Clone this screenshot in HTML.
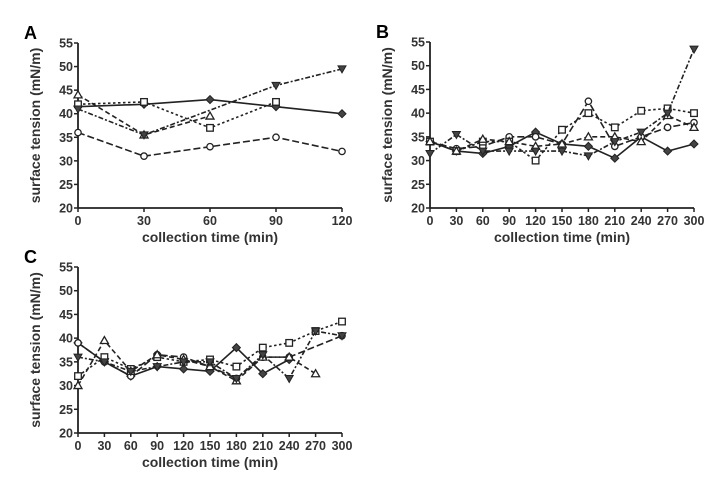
<!DOCTYPE html>
<html><head><meta charset="utf-8"><style>
body{margin:0;background:#fff;width:723px;height:475px;overflow:hidden}
svg{font-family:"Liberation Sans",Arial,sans-serif;font-weight:bold}
</style></head><body>
<svg id="s" width="723" height="475" viewBox="0 0 723 475" xmlns="http://www.w3.org/2000/svg"></svg>
<script>
const S=document.getElementById('s');let h='';
const dash={sol:'',dsh:'7,3',dot:'2.5,2.5',dd:'5,2,2,2',dt:'5,3'};
function panel(o){
 const {L,T,B,R,xmax,step,letter,series}=o;
 const X=v=>L+(R-L)*v/xmax, Y=v=>B-(B-T)*(v-20)/35;
 h+=`<text x="${L-54}" y="${T-4}" font-size="18">${letter}</text>`;
 h+=`<line x1="${L}" y1="${T}" x2="${L}" y2="${B}" stroke="#222" stroke-width="1.8"/><line x1="${L}" y1="${B}" x2="${R}" y2="${B}" stroke="#222" stroke-width="1.8"/>`;
 for(let v=20;v<=55;v+=5){h+=`<line x1="${L-4}" y1="${Y(v)}" x2="${L}" y2="${Y(v)}" stroke="#222" stroke-width="1.5"/><text x="${L-5}" y="${Y(v)+4.5}" font-size="12.5" text-anchor="end" fill="#333">${v}</text>`;}
 for(let v=0;v<=xmax;v+=step){h+=`<line x1="${X(v)}" y1="${B}" x2="${X(v)}" y2="${B+4}" stroke="#222" stroke-width="1.5"/><text x="${X(v)}" y="${B+17}" font-size="12.5" text-anchor="middle" fill="#333">${v}</text>`;}
 h+=`<text x="${(L+R)/2}" y="${B+34}" font-size="14" text-anchor="middle" fill="#333">collection time (min)</text>`;
 h+=`<text transform="translate(${L-38},${(T+B)/2}) rotate(-90)" font-size="14" text-anchor="middle" fill="#333">surface tension (mN/m)</text>`;
 for(const s of series){
  const pts=[];s.d.forEach((v,i)=>{if(v!=null)pts.push([X(i*step),Y(v)])});
  h+=`<polyline points="${pts.map(p=>p.join(',')).join(' ')}" fill="none" stroke="#222" stroke-width="1.6" stroke-dasharray="${dash[s.l]}"/>`;
  for(const [x,y] of pts){
   if(s.m=='D')h+=`<polygon points="${x},${y-4} ${x+4},${y} ${x},${y+4} ${x-4},${y}" fill="#444" stroke="#222"/>`;
   if(s.m=='O')h+=`<circle cx="${x}" cy="${y}" r="3.2" fill="#fff" stroke="#222" stroke-width="1.3"/>`;
   if(s.m=='S')h+=`<rect x="${x-3.3}" y="${y-3.3}" width="6.6" height="6.6" fill="#fff" stroke="#222" stroke-width="1.3"/>`;
   if(s.m=='T')h+=`<polygon points="${x},${y-4} ${x+4},${y+3} ${x-4},${y+3}" fill="#fff" stroke="#222" stroke-width="1.3"/>`;
   if(s.m=='V')h+=`<polygon points="${x},${y+4} ${x+4},${y-3} ${x-4},${y-3}" fill="#444" stroke="#222" stroke-width="1"/>`;
  }
 }
}
panel({L:78,T:43,B:208,R:342,xmax:120,step:30,letter:'A',series:[
 {m:'D',l:'sol',f:1,d:[41.5,42,43,41.5,40]},
 {m:'O',l:'dsh',d:[36,31,33,35,32]},
 {m:'T',l:'dt',d:[44,35.5,39.5]},
 {m:'S',l:'dot',d:[42,42.5,37,42.5]},
 {m:'V',l:'dd',d:[41,35.5,null,46,49.5]}]});
panel({L:430,T:42,B:208,R:694,xmax:300,step:30,letter:'B',series:[
 {m:'D',l:'sol',f:1,d:[34,32,31.5,33,36,33.5,33,30.5,35,32,33.5]},
 {m:'O',l:'dsh',d:[34,32.5,33,35,35,33.5,42.5,33,35,37,38]},
 {m:'S',l:'dot',d:[34,32,34,34,30,36.5,40,37,40.5,41,40]},
 {m:'T',l:'dt',d:[34,32,34.5,34,33,33.5,35,35,34,39.5,37]},
 {m:'V',l:'dd',d:[31.5,35.5,32,32,32,32,31,34,36,40,53.5]}]});
panel({L:78,T:267,B:433,R:342,xmax:300,step:30,letter:'C',series:[
 {m:'D',l:'sol',f:1,d:[39,35,32,34,33.5,33,38,32.5,35.5,null,null]},
 {m:'O',l:'dsh',d:[39,35,32,36.5,36,34,31.5,36,36,null,40.5]},
 {m:'S',l:'dot',d:[32,36,33.5,36,35,35.5,34,38,39,41.5,43.5]},
 {m:'T',l:'dt',d:[30,39.5,33,36.5,35.5,34,31,36,36,32.5]},
 {m:'V',l:'dd',d:[36,35,33,34,35,35,31.5,36.5,31.5,41.5,40.5]}]});
S.innerHTML=h;
</script>
</body></html>
